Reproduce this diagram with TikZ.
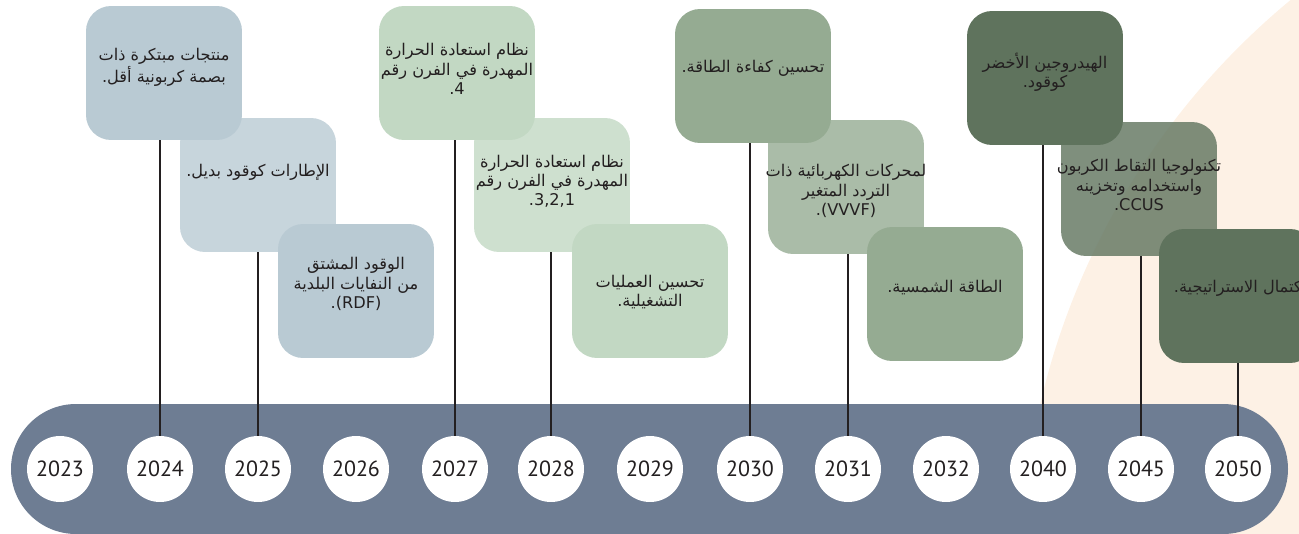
\documentclass[tikz,border=0pt]{standalone}
\usepackage{fontspec}
\setmainfont{PT Sans}
\newfontfamily\arabicfont[Script=Arabic]{DejaVu Sans}
\newfontfamily\latinfont{DejaVu Sans}
\TeXXeTstate=1
\newcommand\rtl[1]{\beginR #1\endR}

\definecolor{barblue}{HTML}{6E7D93}
\definecolor{peach}{HTML}{FDF1E5}
\definecolor{slate}{HTML}{B9CAD3}
\definecolor{sage}{HTML}{C2D8C3}
\definecolor{moss}{HTML}{95AB92}
\definecolor{forest}{HTML}{5F735D}
\definecolor{ink}{HTML}{231F20}

\begin{document}
\begin{tikzpicture}[x=0.02cm,y=-0.02cm,
  card/.style={rounded corners=0.5cm, minimum width=3.12cm, minimum height=2.68cm, inner sep=0pt},
  back/.style={fill opacity=0.8},
  year/.style={circle, fill=white, minimum size=1.32cm, inner sep=0pt, text=ink,
    font=\fontsize{12.5}{12.5}\selectfont},
  note/.style={align=center, text=ink, inner sep=0pt,
    font=\arabicfont\fontsize{9.2}{10.9}\selectfont},
  stem/.style={draw=ink, line width=1.1pt}]
  \useasboundingbox (0,0) rectangle (1299,534);
  \clip (0,0) rectangle (1299,534);

  % background
  \fill[peach] (1763,572) circle (14.84cm);
  \fill[barblue, rounded corners=1.3cm] (11,404) rectangle (1288,534);

  % years on the bar
  \foreach \yr/\px in {2023/60, 2024/160, 2025/258, 2026/356, 2027/455, 2028/551,
      2029/650, 2030/750, 2031/848, 2032/946, 2040/1043, 2045/1141, 2050/1238}
    \node[year] (y\yr) at (\px,469) {\yr};

  % middle row first, the others lie over it
  \node[card, fill=slate, back] (b2025) at (258,185) {};
  \node[card, fill=sage, back] (b2028) at (552,185) {};
  \node[card, fill=moss, back] (b2031) at (846,187) {};
  \node[card, fill=forest, back] (b2045) at (1139,189) {};

  \node[card, fill=slate] (b2024) at (164,73) {};
  \node[card, fill=slate] (b2026) at (356,291) {};
  \node[card, fill=sage] (b2027) at (457,73) {};
  \node[card, fill=sage] (b2029) at (650,291) {};
  \node[card, fill=moss] (b2030) at (753,76) {};
  \node[card, fill=moss] (b2032) at (945,294) {};
  \node[card, fill=forest] (b2040) at (1045,78) {};
  \node[card, fill=forest] (b2050) at (1237,296) {};

  % stems
  \foreach \yr in {2024,2025,2027,2028,2030,2031,2040,2045,2050}
    \draw[stem] (y\yr |- b\yr.south) -- (y\yr.north);

  % texts
  \node[note] (t2024) at (164,67) {\rtl{منتجات مبتكرة ذات}\\\rtl{بصمة كربونية أقل.}};
  \node[note] (t2025) at (258,172) {\rtl{الإطارات كوقود بديل.}};
  \node[note] (t2026) at (356,284) {\rtl{الوقود المشتق}\\\rtl{من النفايات البلدية}\\{\latinfont .(RDF)}};
  \node[note] (t2027) at (457,69) {\rtl{نظام استعادة الحرارة}\\\rtl{المهدرة في الفرن رقم}\\{\latinfont .4}};
  \node[note] (t2028) at (552,181) {\rtl{نظام استعادة الحرارة}\\\rtl{المهدرة في الفرن رقم}\\{\latinfont .3,2,1}};
  \node[note] (t2029) at (650,292) {\rtl{تحسين العمليات}\\\rtl{التشغيلية.}};
  \node[note] (t2030) at (753,68) {\rtl{تحسين كفاءة الطاقة.}};
  \node[note] (t2031) at (846,191) {\rtl{لمحركات الكهربائية ذات}\\\rtl{التردد المتغير}\\{\latinfont .(VVVF)}};
  \node[note] (t2032) at (945,288) {\rtl{الطاقة الشمسية.}};
  \node[note] (t2040) at (1045,72) {\rtl{الهيدروجين الأخضر}\\\rtl{كوقود.}};
  \node[note] (t2045) at (1139,185) {\rtl{تكنولوجيا التقاط الكربون}\\\rtl{واستخدامه وتخزينه}\\{\latinfont .CCUS}};
  \node[note] (t2050) at (1240,288) {\rtl{اكتمال الاستراتيجية.}};
\end{tikzpicture}
\end{document}
